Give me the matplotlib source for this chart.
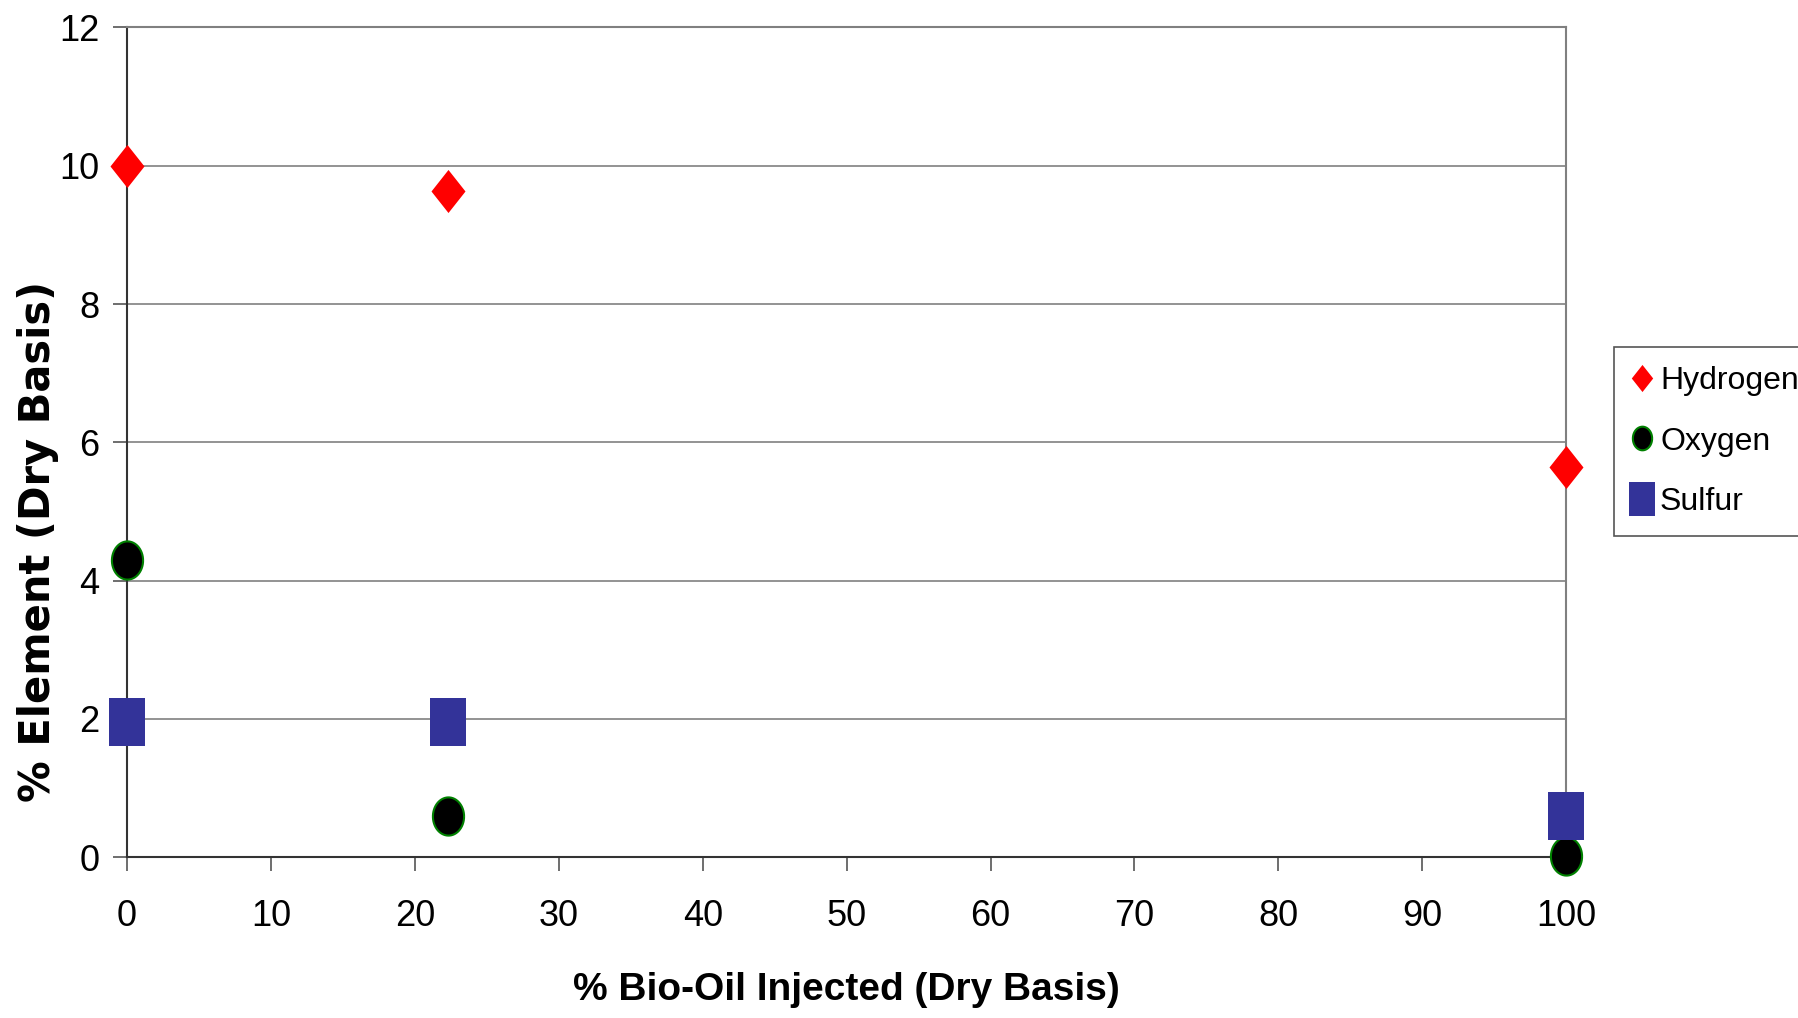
"""Elemental composition vs. bio-oil injection fraction."""

import numpy as np
import matplotlib.pyplot as plt
from matplotlib.path import Path
from matplotlib.lines import Line2D

plt.rcParams['font.family'] = ['Liberation Sans', 'DejaVu Sans']

# ------------------------------
# Data
# ------------------------------

x_bio = [0, 22.3, 100]
hydrogen = [10.0, 9.63, 5.65]
oxygen = [4.3, 0.6, 0.02]
sulfur = [1.95, 1.95, 0.6]

series_names = ['Hydrogen', 'Oxygen', 'Sulfur']
x_ticks = list(range(0, 101, 10))
y_ticks = list(range(0, 13, 2))

# ------------------------------
# Marker shapes (slightly tall, like the original)
# ------------------------------

diamond = Path([(0, 1), (0.79, 0), (0, -1), (-0.79, 0), (0, 1)],
               [Path.MOVETO, Path.LINETO, Path.LINETO, Path.LINETO, Path.CLOSEPOLY])
t = np.linspace(0, 2 * np.pi, 60)
ellipse = Path(np.column_stack([0.816 * np.cos(t), np.sin(t)]))
rect = Path([(-0.755, -1), (0.755, -1), (0.755, 1), (-0.755, 1), (-0.755, -1)],
            [Path.MOVETO, Path.LINETO, Path.LINETO, Path.LINETO, Path.CLOSEPOLY])

fig = plt.figure(figsize=(17.99, 10.18), dpi=100)
ax = fig.add_axes([0.0706, 0.158, 0.8, 0.815])

ax.plot(x_bio, hydrogen, linestyle='none', marker=diamond, markersize=31,
        color='#ff0000', markeredgewidth=0, clip_on=False, zorder=5)
ax.plot(x_bio, oxygen, linestyle='none', marker=ellipse, markersize=27.5,
        markerfacecolor='black', markeredgecolor='#008000', markeredgewidth=1.5,
        clip_on=False, zorder=5)
ax.plot(x_bio, sulfur, linestyle='none', marker=rect, markersize=35,
        color='#333399', markeredgewidth=0, clip_on=False, zorder=6)

ax.set_xlim(0, 100)
ax.set_ylim(0, 12)
ax.set_xticks(x_ticks)
ax.set_yticks(y_ticks)
ax.tick_params(axis='both', labelsize=26, length=10, width=1.2, color='#555555')
ax.tick_params(axis='x', pad=20)
ax.tick_params(axis='y', pad=10)

ax.grid(axis='y', color='#808080', linewidth=1.2)
ax.set_axisbelow(True)
for side in ['top', 'right']:
    ax.spines[side].set_color('#808080')
    ax.spines[side].set_linewidth(1.5)
for side in ['left', 'bottom']:
    ax.spines[side].set_color('#333333')
    ax.spines[side].set_linewidth(1.5)

ax.set_xlabel('% Bio-Oil Injected (Dry Basis)', fontsize=28, fontweight='bold')
ax.xaxis.set_label_coords(0.5, -0.138)
ax.set_ylabel('% Element (Dry Basis)', fontsize=30, fontweight='bold',
              family=['DejaVu Sans'])
ax.yaxis.set_label_coords(-0.047, 0.381)

handles = [
    Line2D([], [], linestyle='none', marker=diamond, markersize=19.5,
           color='#ff0000', markeredgewidth=0),
    Line2D([], [], linestyle='none', marker=ellipse, markersize=17,
           markerfacecolor='black', markeredgecolor='#008000', markeredgewidth=1.5),
    Line2D([], [], linestyle='none', marker=rect, markersize=24,
           color='#333399', markeredgewidth=0),
]
leg = fig.legend(handles, series_names, loc='upper left',
                 bbox_to_anchor=(0.897, 0.659), fontsize=23, frameon=True,
                 fancybox=False, edgecolor='#555555', framealpha=1,
                 handlelength=0.6, handletextpad=0.25, borderpad=0.6,
                 labelspacing=0.95, borderaxespad=0)
leg.get_frame().set_linewidth(1.2)

plt.savefig("out.png", dpi=100)
